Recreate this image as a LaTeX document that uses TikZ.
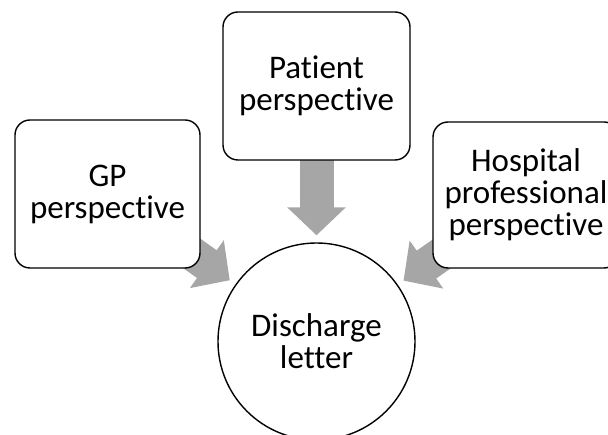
\documentclass[tikz,border=0pt]{standalone}
\usepackage{fontspec}
\setmainfont{Carlito}[Ligatures={NoCommon}]
\usetikzlibrary{arrows.meta,backgrounds}
\definecolor{arrowgray}{RGB}{166,166,166}

\begin{document}
\begin{tikzpicture}[x=1pt,y=-1pt,font=\fontsize{33}{32}\selectfont,
	persp/.style={draw,line width=1.4pt,rounded corners=15pt,fill=white,align=center,inner sep=0pt},
	doc/.style={draw,circle,line width=1.4pt,fill=white,align=center,minimum size=197pt,inner sep=0pt},
	fat/.style={draw=arrowgray,line width=34pt,-{Triangle[width=57pt,length=28pt]},shorten >=7pt}]
	 \useasboundingbox (0,0) rectangle (608,435);
	 \clip (0,0) rectangle (608,435);

	 \node[persp,minimum width=185pt,minimum height=148pt] (gp) at (107.5,194) {GP\\perspective};
	 \node[persp,minimum width=187pt,minimum height=148pt] (patient) at (316.5,86) {Patient\\perspective};
	 \node[persp,minimum width=186pt,minimum height=146pt] (hosp) at (526,195) {Hospital\\professional\\perspective};
	 \node[doc] (letter) at (316.5,341.5) {Discharge\\letter};

	 \begin{pgfonlayer}{background}
	 \path
	 (gp) edge [fat,shorten <=-30pt] (letter)
	 (patient) edge [fat,shorten <=-10pt] (letter)
	 (hosp) edge [fat,shorten <=-30pt] (letter)
	 ;
	 \end{pgfonlayer}
\end{tikzpicture}
\end{document}
